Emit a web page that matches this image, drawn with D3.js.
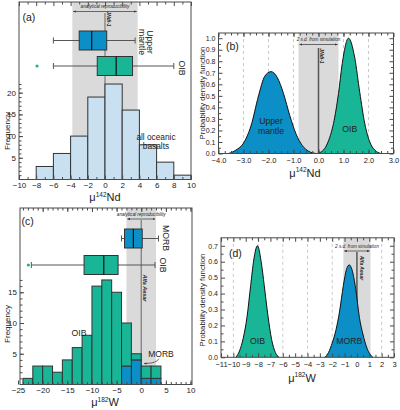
<!DOCTYPE html>
<html>
<head>
<meta charset="utf-8">
<script src="https://cdn.jsdelivr.net/npm/d3@7"></script>
<style>
  body { margin: 0; background: #fff; }
  text { font-family: "Liberation Sans", Arial, sans-serif; fill: #222; }
</style>
</head>
<body>
<svg id="fig" width="400" height="410"></svg>
<script>
// ---- data ----
// (a) all oceanic basalts, mu142Nd histogram (bin width 2, left edges)
var ndBinEdges = [-8, -6, -4, -2, 0, 2, 4, 6, 8];
var ndCounts = [3, 6, 10, 19, 22, 16, 8, 4, 1];
// (a) box plots
var ndBoxNames = ["Upper mantle", "OIB"];
var ndBoxLo = [-6, -6];
var ndBoxQ1 = [-3.0, -0.9];
var ndBoxMed = [-1.55, 1.3];
var ndBoxQ3 = [0.2, 3.2];
var ndBoxHi = [3.5, 8.0];
var ndBoxOut = [[], [-7.9]];
var ndRepro = 3.8;

// (b) probability density of mu142Nd
var pdfNdMantleX = [-3.6, -3.3, -3.0, -2.7, -2.4, -2.15, -1.9, -1.65, -1.4, -1.15, -0.9, -0.65, -0.4, -0.1];
var pdfNdMantleY = [0.0, 0.03, 0.09, 0.24, 0.50, 0.67, 0.71, 0.66, 0.52, 0.33, 0.17, 0.07, 0.02, 0.0];
var pdfNdOibX = [-0.05, 0.2, 0.4, 0.6, 0.8, 0.95, 1.2, 1.45, 1.65, 1.85, 2.05, 2.25, 2.5];
var pdfNdOibY = [0.0, 0.03, 0.11, 0.26, 0.52, 0.78, 1.0, 0.83, 0.53, 0.26, 0.10, 0.03, 0.0];
var ndSimSd = 0.8;

// (c) mu182W histogram, stacked (bin width 2, left edges)
var wBinEdges = [-24, -22, -20, -18, -16, -14, -12, -10, -8, -6, -4, -2, 0, 2];
var wTotal = [1, 3, 3, 2, 4, 6, 8, 16, 17, 15, 10, 5, 3, 3];
var wMorb = [0, 0, 0, 0, 0, 0, 0, 0, 0, 0, 3, 4, 1, 1];
// (c) box plots
var wBoxNames = ["MORB", "OIB"];
var wBoxLo = [-4.0, -22.3];
var wBoxQ1 = [-3.4, -11.6];
var wBoxMed = [-1.6, -7.6];
var wBoxQ3 = [0.2, -4.7];
var wBoxHi = [3.5, 2.8];
var wBoxOut = [[], [-22.9]];
var wRepro = 3.0;

// (d) probability density of mu182W
var pdfWOibX = [-9.8, -9.5, -9.2, -8.9, -8.6, -8.35, -8.05, -7.75, -7.5, -7.2, -6.9, -6.6, -6.3];
var pdfWOibY = [0.0, 0.04, 0.12, 0.25, 0.45, 0.61, 0.70, 0.60, 0.45, 0.26, 0.11, 0.03, 0.0];
var pdfWMorbX = [-2.6, -2.3, -2.0, -1.7, -1.4, -1.1, -0.85, -0.62, -0.4, -0.1, 0.2, 0.5, 0.8, 1.05, 1.3];
var pdfWMorbY = [0.0, 0.03, 0.09, 0.17, 0.29, 0.45, 0.55, 0.58, 0.55, 0.43, 0.25, 0.14, 0.06, 0.02, 0.0];
var wSimSd = 1.1;

// ---- styles ----
var BLUE = "#0b8fc6", TEAL = "#18b596", LIGHT = "#c8e0f0", BAND = "#dadada";
var EDGE = "#333", FRAME = "#4a4a4a";

var svg = d3.select("#fig");

// arrow heads for the little double arrows
var defs = svg.append("defs");
defs.append("marker")
    .attr("id", "ah")
    .attr("viewBox", "0 0 10 10")
    .attr("refX", 9).attr("refY", 5)
    .attr("markerWidth", 4).attr("markerHeight", 4)
    .attr("orient", "auto-start-reverse")
    .append("path").attr("d", "M0,1 L10,5 L0,9 Z").attr("fill", "#333");

function clean(g) { g.select(".domain").remove(); g.selectAll("line").attr("stroke", FRAME); }

// inward ticks on one side of a panel
function ticks(g, axisFn, scale, pos, major, minor, fmt, size, pad) {
    var a = g.append("g").attr("transform", pos)
        .call(axisFn(scale).tickValues(major).tickSize(-4).tickPadding(pad || 3)
            .tickFormat(fmt || ""))
        .call(clean);
    a.selectAll("text").attr("font-size", size || 8);
    if (minor) {
        g.append("g").attr("transform", pos)
            .call(axisFn(scale).tickValues(minor).tickSize(-2.5).tickFormat(""))
            .call(clean);
    }
}

function frame(g, x, y) {
    g.append("rect")
        .attr("x", x.range()[0]).attr("y", y.range()[1])
        .attr("width", x.range()[1] - x.range()[0])
        .attr("height", y.range()[0] - y.range()[1])
        .attr("fill", "none").attr("stroke", FRAME).attr("stroke-width", 1);
}

function xTitle(g, cx, cy, iso, el) {
    var t = g.append("text").attr("x", cx).attr("y", cy)
        .attr("text-anchor", "middle").attr("font-size", 11);
    t.append("tspan").text("μ");
    t.append("tspan").attr("font-size", 6.5).attr("dy", -4.5).text(iso);
    t.append("tspan").attr("dy", 4.5).text(el);
}

function vText(g, x, y, txt, size, style) {
    var t = g.append("text")
        .attr("transform", "translate(" + x + "," + y + ") rotate(90)")
        .attr("text-anchor", "middle").attr("dy", "0.35em")
        .attr("font-size", size).text(txt);
    if (style) { t.attr("font-style", "italic").attr("font-weight", "bold"); }
    return t;
}

function yTitle(g, x, y, txt, size) {
    g.append("text")
        .attr("transform", "translate(" + x + "," + y + ") rotate(-90)")
        .attr("text-anchor", "middle").attr("dy", "0.35em")
        .attr("font-size", size).text(txt);
}

function sdArrow(g, x0, x1, yText, yArrow, label) {
    g.append("text").attr("x", (x0 + x1) / 2).attr("y", yText)
        .attr("text-anchor", "middle").attr("font-size", 4.6)
        .attr("font-style", "italic").attr("fill", "#333").text(label);
    g.append("line").attr("x1", x0 + 1).attr("x2", x1 - 1)
        .attr("y1", yArrow).attr("y2", yArrow)
        .attr("stroke", "#333").attr("stroke-width", 0.7)
        .attr("marker-start", "url(#ah)").attr("marker-end", "url(#ah)");
}

function boxes(g, x, yc, lo, q1, med, q3, hi, out, colors) {
    var h = 9.5;
    yc.forEach(function (cy, i) {
        g.append("line").attr("x1", x(lo[i])).attr("x2", x(hi[i]))
            .attr("y1", cy).attr("y2", cy).attr("stroke", "#555").attr("stroke-width", 1);
        [lo[i], hi[i]].forEach(function (v) {
            g.append("line").attr("x1", x(v)).attr("x2", x(v))
                .attr("y1", cy - 3).attr("y2", cy + 3).attr("stroke", "#555").attr("stroke-width", 1);
        });
        g.append("rect").attr("x", x(q1[i])).attr("y", cy - h)
            .attr("width", x(q3[i]) - x(q1[i])).attr("height", 2 * h)
            .attr("fill", colors[i]).attr("stroke", EDGE).attr("stroke-width", 1);
        g.append("line").attr("x1", x(med[i])).attr("x2", x(med[i]))
            .attr("y1", cy - h).attr("y2", cy + h).attr("stroke", "#111").attr("stroke-width", 1.2);
        out[i].forEach(function (v) {
            g.append("circle").attr("cx", x(v)).attr("cy", cy).attr("r", 1.6).attr("fill", colors[i]);
        });
    });
}

function pdf(g, x, y, xs, ys, color) {
    var pts = xs.map(function (v, i) { return [v, ys[i]]; });
    g.append("path").datum(pts)
        .attr("d", d3.area().x(function (d) { return x(d[0]); })
            .y0(y(0)).y1(function (d) { return y(d[1]); })
            .curve(d3.curveMonotoneX))
        .attr("fill", color);
    g.append("path").datum(pts)
        .attr("d", d3.line().x(function (d) { return x(d[0]); })
            .y(function (d) { return y(d[1]); })
            .curve(d3.curveMonotoneX))
        .attr("fill", "none").attr("stroke", "#111").attr("stroke-width", 1);
}

// =============== (a) ===============
(function () {
    var g = svg.append("g");
    var x = d3.scaleLinear().domain([-10, 10]).range([19, 191]);
    var y = d3.scaleLinear().domain([0, 40.9]).range([179.5, 2]);

    g.append("rect").attr("x", x(-ndRepro)).attr("y", y(40.9))
        .attr("width", x(ndRepro) - x(-ndRepro)).attr("height", y(0) - y(40.9)).attr("fill", BAND);
    g.append("line").attr("x1", x(0)).attr("x2", x(0)).attr("y1", 13).attr("y2", y(0))
        .attr("stroke", "#7a7a7a").attr("stroke-width", 1.2);

    g.selectAll(".bar").data(ndCounts).enter().append("rect")
        .attr("x", function (d, i) { return x(ndBinEdges[i]); })
        .attr("width", function (d, i) { return x(ndBinEdges[i] + 2) - x(ndBinEdges[i]); })
        .attr("y", function (d) { return y(d); })
        .attr("height", function (d) { return y(0) - y(d); })
        .attr("fill", LIGHT).attr("stroke", EDGE).attr("stroke-width", 1);

    boxes(g, x, [40.5, 66], ndBoxLo, ndBoxQ1, ndBoxMed, ndBoxQ3, ndBoxHi, ndBoxOut, [BLUE, TEAL]);

    sdArrow(g, x(-ndRepro), x(ndRepro), 8.3, 11.5, "analytical reproducibility");
    vText(g, 108.5, 19, "JNdi-1", 5, true);

    ticks(g, d3.axisBottom, x, "translate(0," + y(0) + ")", d3.range(-10, 11, 2), d3.range(-9, 10, 2), d3.format("d"));
    ticks(g, d3.axisTop, x, "translate(0," + y(40.9) + ")", d3.range(-10, 11, 2), d3.range(-9, 10, 2), null);
    ticks(g, d3.axisLeft, y, "translate(" + x(-10) + ",0)", [5, 10, 15, 20], d3.range(1, 23), d3.format("d"));
    frame(g, x, y);

    g.append("text").attr("x", 22.5).attr("y", 21).attr("font-size", 10.5).text("(a)");
    var t1 = g.append("text").attr("transform", "translate(146.5,42) rotate(90)")
        .attr("text-anchor", "middle").attr("font-size", 8.7);
    t1.append("tspan").attr("x", 0).attr("dy", "-0.1em").text("Upper");
    t1.append("tspan").attr("x", 0).attr("dy", "0.95em").text("mantle");
    vText(g, 182, 68, "OIB", 8.7);
    g.append("text").attr("x", 156).attr("y", 139.5).attr("text-anchor", "middle").attr("font-size", 8.3).text("all oceanic");
    g.append("text").attr("x", 156).attr("y", 149).attr("text-anchor", "middle").attr("font-size", 8.3).text("basalts");
    yTitle(g, 7, 131, "Frequency", 8);
    xTitle(g, 105, 201, "142", "Nd");
})();

// =============== (b) ===============
(function () {
    var g = svg.append("g");
    var x = d3.scaleLinear().domain([-4, 3]).range([218.5, 393.5]);
    var y = d3.scaleLinear().domain([0, 1.045]).range([153.5, 33]);

    [-3, -2, -1, 1, 2].forEach(function (v) {
        g.append("line").attr("x1", x(v)).attr("x2", x(v)).attr("y1", y(1.045)).attr("y2", y(0))
            .attr("stroke", "#bdbdbd").attr("stroke-width", 0.8).attr("stroke-dasharray", "3,3");
    });
    g.append("rect").attr("x", x(-ndSimSd)).attr("y", y(1.045))
        .attr("width", x(ndSimSd) - x(-ndSimSd)).attr("height", y(0) - y(1.045)).attr("fill", BAND);
    g.append("line").attr("x1", x(0)).attr("x2", x(0)).attr("y1", 48).attr("y2", y(0))
        .attr("stroke", "#555").attr("stroke-width", 1.5);

    pdf(g, x, y, pdfNdMantleX, pdfNdMantleY, BLUE);
    pdf(g, x, y, pdfNdOibX, pdfNdOibY, TEAL);

    sdArrow(g, x(-ndSimSd), x(ndSimSd), 41, 44.5, "2 s.d. from simulation");
    vText(g, 321.5, 56, "JNdi-1", 5, true);

    var f1 = d3.format(".1f");
    ticks(g, d3.axisBottom, x, "translate(0," + y(0) + ")", d3.range(-4, 3.01, 1), d3.range(-3.75, 3, 0.25), f1, 7.5, 4);
    ticks(g, d3.axisTop, x, "translate(0," + y(1.045) + ")", d3.range(-4, 3.01, 1), d3.range(-3.75, 3, 0.25), null);
    ticks(g, d3.axisLeft, y, "translate(" + x(-4) + ",0)", d3.range(0, 1.01, 0.1), d3.range(0.05, 1.05, 0.1), f1, 7);
    ticks(g, d3.axisRight, y, "translate(" + x(3) + ",0)", d3.range(0, 1.01, 0.1), d3.range(0.05, 1.05, 0.1), null);
    frame(g, x, y);

    g.append("text").attr("x", 226).attr("y", 50).attr("font-size", 10.5).text("(b)");
    g.append("text").attr("x", x(-1.9)).attr("y", 124).attr("text-anchor", "middle").attr("font-size", 8.7).text("Upper");
    g.append("text").attr("x", x(-1.9)).attr("y", 133.5).attr("text-anchor", "middle").attr("font-size", 8.7).text("mantle");
    g.append("text").attr("x", x(1.25)).attr("y", 131.5).attr("text-anchor", "middle").attr("font-size", 8.7).text("OIB");
    yTitle(g, 202, 93, "Probability density function", 7.8);
    xTitle(g, 305, 176.5, "142", "Nd");
})();

// =============== (c) ===============
(function () {
    var g = svg.append("g");
    var x = d3.scaleLinear().domain([-24.6, 10.3]).range([20, 192]);
    var y = d3.scaleLinear().domain([0, 28.7]).range([384.5, 208]);

    g.append("rect").attr("x", x(-wRepro)).attr("y", y(28.7))
        .attr("width", x(wRepro) - x(-wRepro)).attr("height", y(0) - y(28.7)).attr("fill", BAND);
    g.append("line").attr("x1", x(0)).attr("x2", x(0)).attr("y1", 220).attr("y2", y(0))
        .attr("stroke", "#7a7a7a").attr("stroke-width", 1.2);

    var wOib = wTotal.map(function (d, i) { return d - wMorb[i]; });
    // MORB at the bottom, OIB stacked above
    g.selectAll(".morb").data(wMorb).enter().append("rect")
        .attr("display", function (d) { return d > 0 ? null : "none"; })
        .attr("x", function (d, i) { return x(wBinEdges[i]); })
        .attr("width", function (d, i) { return x(wBinEdges[i] + 2) - x(wBinEdges[i]); })
        .attr("y", function (d) { return y(d); })
        .attr("height", function (d) { return y(0) - y(d); })
        .attr("fill", BLUE).attr("stroke", EDGE).attr("stroke-width", 1);
    g.selectAll(".oib").data(wOib).enter().append("rect")
        .attr("x", function (d, i) { return x(wBinEdges[i]); })
        .attr("width", function (d, i) { return x(wBinEdges[i] + 2) - x(wBinEdges[i]); })
        .attr("y", function (d, i) { return y(d + wMorb[i]); })
        .attr("height", function (d, i) { return y(wMorb[i]) - y(d + wMorb[i]); })
        .attr("fill", TEAL).attr("stroke", EDGE).attr("stroke-width", 1);

    boxes(g, x, [238.5, 265], wBoxLo, wBoxQ1, wBoxMed, wBoxQ3, wBoxHi, wBoxOut, [BLUE, TEAL]);

    sdArrow(g, x(-wRepro), x(wRepro), 215.5, 219, "analytical reproducibility");
    vText(g, 145, 288, "Alfa Aesar", 5.5, true);

    ticks(g, d3.axisBottom, x, "translate(0," + y(0) + ")", d3.range(-25, 11, 5), d3.range(-24, 11, 1), d3.format("d"));
    ticks(g, d3.axisTop, x, "translate(0," + y(28.7) + ")", d3.range(-20, 11, 5), d3.range(-24, 11, 1), null);
    ticks(g, d3.axisLeft, y, "translate(" + x(-24.6) + ",0)", [5, 10, 15], d3.range(1, 18), d3.format("d"));
    frame(g, x, y);

    g.append("text").attr("x", 21.5).attr("y", 225).attr("font-size", 10.5).text("(c)");
    vText(g, 166, 238, "MORB", 8.7);
    vText(g, 163, 265, "OIB", 8.7);
    g.append("text").attr("x", 79).attr("y", 335.5).attr("text-anchor", "middle").attr("font-size", 8.7).text("OIB");
    g.append("text").attr("x", 161).attr("y", 356.5).attr("text-anchor", "middle").attr("font-size", 8.5).text("MORB");
    g.append("path").attr("d", "M159,358.5 Q157,363.5 144,363.5")
        .attr("fill", "none").attr("stroke", "#333").attr("stroke-width", 0.7)
        .attr("marker-end", "url(#ah)");
    yTitle(g, 7, 324, "Frequency", 8);
    xTitle(g, 105, 406, "182", "W");
})();

// =============== (d) ===============
(function () {
    var g = svg.append("g");
    var x = d3.scaleLinear().domain([-11, 3]).range([221, 394]);
    var y = d3.scaleLinear().domain([0, 0.75]).range([357.3, 237.8]);

    d3.range(-10, 3, 2).forEach(function (v) {
        g.append("line").attr("x1", x(v)).attr("x2", x(v)).attr("y1", y(0.75)).attr("y2", y(0))
            .attr("stroke", "#bdbdbd").attr("stroke-width", 0.8).attr("stroke-dasharray", "3,3");
    });
    g.append("rect").attr("x", x(-wSimSd)).attr("y", y(0.75))
        .attr("width", x(wSimSd) - x(-wSimSd)).attr("height", y(0) - y(0.75)).attr("fill", BAND);
    g.append("line").attr("x1", x(0)).attr("x2", x(0)).attr("y1", 252).attr("y2", y(0))
        .attr("stroke", "#555").attr("stroke-width", 1.5);

    pdf(g, x, y, pdfWOibX, pdfWOibY, TEAL);
    pdf(g, x, y, pdfWMorbX, pdfWMorbY, BLUE);

    sdArrow(g, x(-wSimSd), x(wSimSd), 248, 251, "2 s.d. from simulation");
    vText(g, 361.5, 268, "Alfa Aesar", 5, true);

    var f1 = d3.format(".1f");
    ticks(g, d3.axisBottom, x, "translate(0," + y(0) + ")", d3.range(-11, 3.01, 1), d3.range(-10.5, 3, 1), d3.format("d"), 7.5, 4);
    ticks(g, d3.axisTop, x, "translate(0," + y(0.75) + ")", d3.range(-11, 3.01, 1), d3.range(-10.5, 3, 1), null);
    ticks(g, d3.axisLeft, y, "translate(" + x(-11) + ",0)", d3.range(0, 0.71, 0.1), d3.range(0.05, 0.75, 0.1), f1, 7);
    ticks(g, d3.axisRight, y, "translate(" + x(3) + ",0)", d3.range(0, 0.71, 0.1), d3.range(0.05, 0.75, 0.1), null);
    frame(g, x, y);

    g.append("text").attr("x", 229).attr("y", 256.5).attr("font-size", 10.5).text("(d)");
    g.append("text").attr("x", x(-8.05)).attr("y", 344).attr("text-anchor", "middle").attr("font-size", 8.7).text("OIB");
    g.append("text").attr("x", x(-0.62)).attr("y", 344).attr("text-anchor", "middle").attr("font-size", 8.7).text("MORB");
    yTitle(g, 202, 300, "Probability density function", 7.8);
    xTitle(g, 302, 381.5, "182", "W");
})();
</script>
</body>
</html>
